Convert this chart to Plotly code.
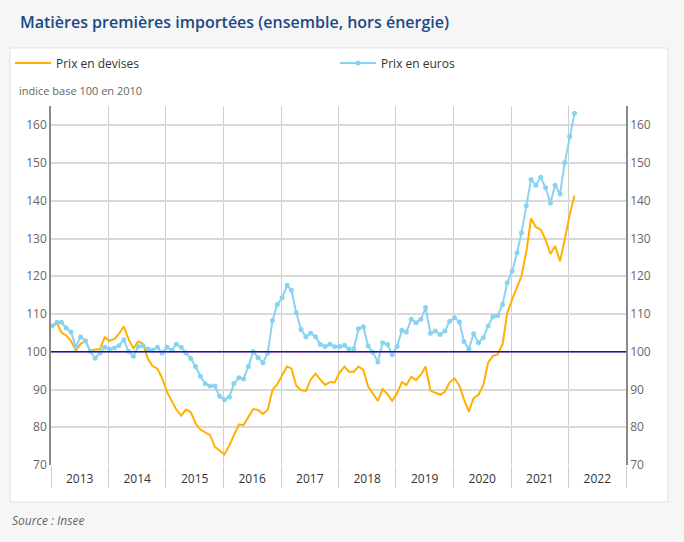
import pandas as pd
import plotly.graph_objects as go

# Monthly data, January 2013 - February 2022
start_month = "2013-01-01"
n_months = 110

prix_devises = [
    106.5, 107.6, 105.1, 104.3, 102.9, 100.3, 102.1, 102.8, 100.3, 100.6, 100.7, 103.8,
    102.9, 103.4, 104.7, 106.7, 103.4, 100.9, 102.7, 102.1, 98.1, 96.2, 95.5, 93.0,
    89.3, 86.9, 84.7, 83.1, 84.7, 84.0, 81.0, 79.4, 78.7, 77.9, 74.8, 73.7,
    72.8, 75.2, 77.7, 80.7, 80.6, 82.7, 84.8, 84.6, 83.5, 84.6, 89.9, 91.4,
    93.6, 96.1, 95.6, 91.0, 89.8, 89.6, 92.6, 94.2, 92.6, 91.2, 92.0, 91.9,
    94.5, 96.1, 94.7, 94.7, 96.1, 95.2, 90.8, 88.8, 87.0, 90.1, 88.8, 87.0,
    89.0, 92.0, 91.2, 93.4, 92.5, 93.9, 96.1, 89.7, 89.2, 88.6, 89.4, 91.9,
    92.9, 91.0, 87.4, 84.1, 87.7, 88.6, 91.0, 97.1, 98.9, 99.3, 102.0, 110.3,
    113.9, 116.9, 120.0, 126.6, 135.3, 133.0, 132.4, 129.7, 125.9, 128.0, 124.0, 129.7,
    136.3, 141.4,
]

prix_euros = [
    106.9, 107.8, 107.8, 106.3, 105.2, 101.3, 103.9, 102.9, 100.1, 98.3, 99.7, 101.2,
    100.7, 101.0, 101.6, 103.2, 100.1, 98.8, 101.4, 101.6, 100.7, 100.4, 101.2, 99.7,
    101.2, 100.4, 102.0, 101.2, 99.7, 98.2, 96.1, 93.5, 91.5, 90.9, 90.9, 88.2,
    87.3, 88.0, 91.6, 93.1, 92.8, 96.1, 100.0, 98.4, 97.1, 99.6, 108.3, 112.5,
    114.3, 117.6, 116.3, 110.3, 105.9, 104.0, 104.9, 104.0, 101.9, 101.4, 102.0, 101.3,
    101.4, 101.7, 100.7, 100.8, 106.1, 106.6, 101.5, 99.8, 97.3, 102.4, 101.9, 99.2,
    101.4, 105.7, 105.2, 108.6, 107.7, 108.6, 111.7, 104.9, 105.5, 104.6, 105.5, 108.1,
    109.0, 107.9, 102.7, 100.7, 104.8, 102.4, 103.7, 106.8, 109.3, 109.6, 112.5, 118.3,
    121.3, 126.2, 131.5, 138.7, 145.6, 144.1, 146.2, 143.5, 139.4, 144.1, 141.8, 150.1,
    157.0, 163.2,
]

y_ticks = [70, 80, 90, 100, 110, 120, 130, 140, 150, 160]
base_value = 100

dates = pd.date_range(start_month, periods=n_months, freq="MS") + pd.Timedelta(days=7)

FONT = "Open Sans"
PLOT_L, PLOT_R, PLOT_T, PLOT_B = 51, 626, 106, 465


def px_x(px):
    return (px - PLOT_L) / (PLOT_R - PLOT_L)


def px_y(py):
    return (PLOT_B - py) / (PLOT_B - PLOT_T)


fig = go.Figure()
fig.add_trace(go.Scatter(
    x=dates, y=prix_devises, name="Prix en devises", mode="lines",
    line=dict(color="#ffb000", width=2), legend="legend",
))
fig.add_trace(go.Scatter(
    x=dates, y=prix_euros, name="Prix en euros", mode="lines+markers",
    line=dict(color="#8ad3f0", width=2),
    marker=dict(color="#8ad3f0", size=5), legend="legend2",
))
# invisible trace to activate right axis
fig.add_trace(go.Scatter(x=[dates[0]], y=[base_value], yaxis="y2", showlegend=False,
                         mode="markers", marker=dict(opacity=0), hoverinfo="skip"))

# 100 reference line
fig.add_shape(type="line", xref="paper", x0=0, x1=1, yref="y", y0=base_value, y1=base_value,
              line=dict(color="#3508a8", width=1.5))

# white panel
fig.add_shape(type="rect", xref="paper", yref="paper",
              x0=px_x(10), x1=px_x(668), y0=px_y(502), y1=px_y(48),
              fillcolor="white", line=dict(color="#e2e2e2", width=1), layer="below")

yaxis_common = dict(
    range=[70, 165.1], tickvals=y_ticks, showgrid=True, gridcolor="#d9d9d9", gridwidth=1.5,
    zeroline=False, showline=True, linecolor="#8a8a8a", linewidth=1.5,
    tickfont=dict(family=FONT, size=12, color="#666666"), ticks="", automargin=False,
)

legend_common = dict(orientation="h", xanchor="left", yanchor="middle", itemwidth=36,
                     font=dict(family=FONT, size=12, color="#333333"),
                     bgcolor="rgba(0,0,0,0)")

fig.update_layout(
    width=684, height=542,
    paper_bgcolor="#f6f6f6", plot_bgcolor="white",
    margin=dict(l=PLOT_L, r=684 - PLOT_R, t=PLOT_T, b=542 - PLOT_B, autoexpand=False),
    title=dict(text="Matières premières importées (ensemble, hors énergie)",
               x=20 / 684, xanchor="left", y=1 - 22 / 542, yanchor="middle",
               font=dict(family=FONT, size=16, color="#1b4a86", weight=600)),
    xaxis=dict(
        type="date", range=["2013-01-01", "2023-01-01"],
        tick0="2013-01-01", dtick="M12", tickformat="%Y", ticklabelmode="period",
        showgrid=True, gridcolor="#cfcfcf", gridwidth=1.2,
        ticks="outside", ticklen=22, tickcolor="#cfcfcf", tickwidth=1.2,
        ticklabelstandoff=-19,
        tickfont=dict(family=FONT, size=12, color="#333333"),
        showline=False, zeroline=False, automargin=False,
    ),
    yaxis=dict(**yaxis_common, side="left"),
    yaxis2=dict(**yaxis_common, side="right", overlaying="y", matches="y"),
    legend=dict(**legend_common, x=px_x(10), y=px_y(63)),
    legend2=dict(**legend_common, x=px_x(335), y=px_y(63)),
    showlegend=True,
    hovermode=False,
    annotations=[
        dict(text="indice base 100 en 2010", xref="paper", yref="paper",
             x=px_x(17), y=px_y(90), xanchor="left", yanchor="middle", showarrow=False,
             font=dict(family=FONT, size=11, color="#666666")),
        dict(text="<i>Source : Insee</i>", xref="paper", yref="paper",
             x=px_x(10), y=px_y(520), xanchor="left", yanchor="middle", showarrow=False,
             font=dict(family=FONT, size=12, color="#666666")),
    ],
)

fig.write_html(
    "out.html",
    config={"displayModeBar": False},
    post_script="document.body.style.margin='0';document.body.style.background='#f6f6f6';",
)
